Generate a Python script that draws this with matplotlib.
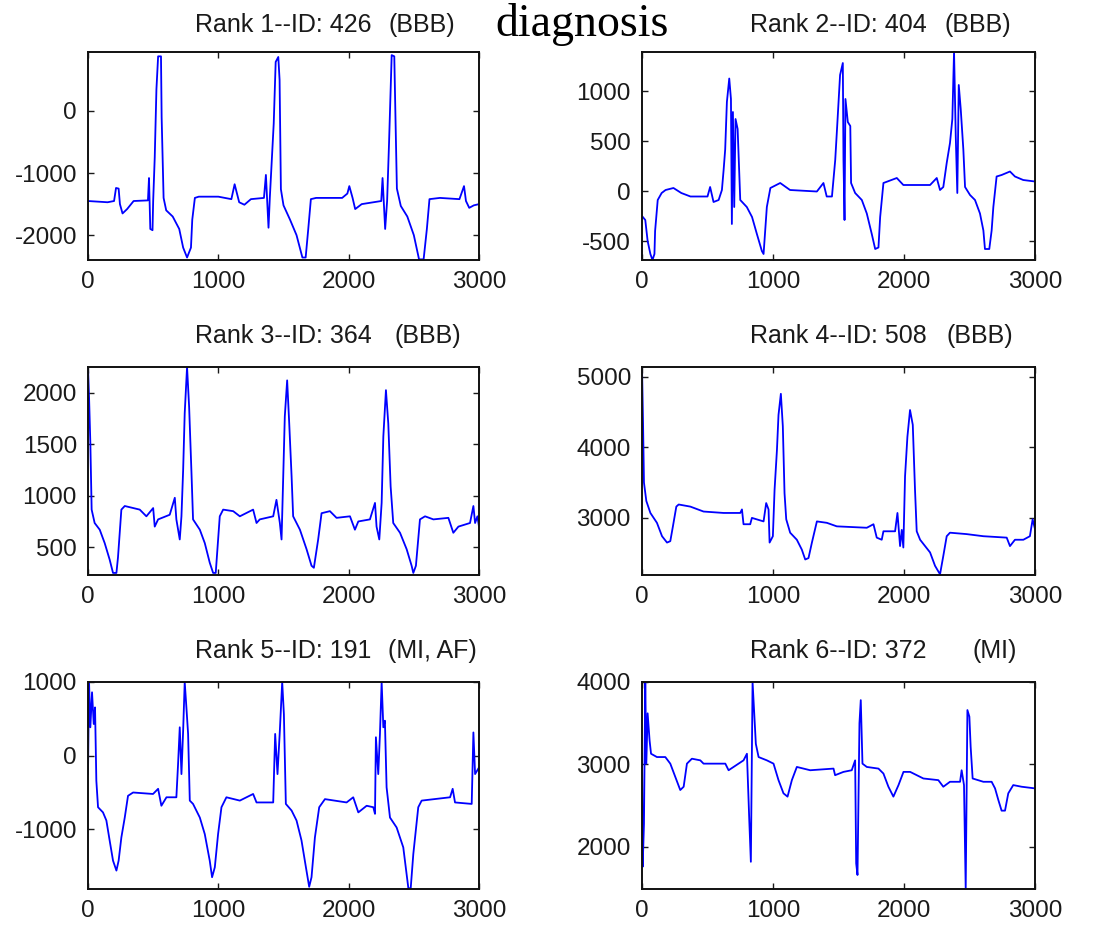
import matplotlib
matplotlib.use("Agg")
import matplotlib.pyplot as plt

# ---- data (sample index, amplitude) ----
rank1_x = [0, 150, 200, 215, 235, 245, 265, 300, 350, 460, 468, 478, 495, 500, 512, 525, 538, 560, 565,
           580, 600, 650, 700, 730, 760, 790, 800, 820, 850, 1000, 1100, 1125, 1160, 1200, 1250, 1350, 1365,
           1385, 1395, 1425, 1440, 1460, 1470, 1480, 1500, 1550, 1600, 1645, 1670, 1690, 1710, 1750, 1950,
           1990, 2005, 2030, 2050, 2100, 2250, 2260, 2280, 2295, 2310, 2330, 2350, 2360, 2370, 2400, 2450,
           2500, 2540, 2575, 2600, 2620, 2700, 2850, 2885, 2900, 2925, 2960, 3000]
rank1_y = [-1450, -1470, -1450, -1240, -1250, -1500, -1650, -1580, -1450, -1440, -1080, -1900, -1920,
           -1450, -750, 350, 880, 880, -100, -1400, -1600, -1700, -1900, -2200, -2360, -2200, -1750, -1400,
           -1380, -1380, -1420, -1180, -1470, -1510, -1420, -1400, -1030, -1880, -1400, -200, 790, 870,
           500, -1260, -1520, -1750, -2000, -2360, -2360, -1900, -1420, -1400, -1400, -1330, -1210, -1400,
           -1580, -1500, -1450, -1080, -1900, -1450, -500, 900, 880, -200, -1250, -1530, -1700, -2000,
           -2390, -2390, -1900, -1420, -1400, -1420, -1210, -1450, -1560, -1520, -1500]

rank2_x = [0, 25, 43, 64, 80, 95, 100, 120, 150, 180, 240, 300, 370, 500, 520, 546, 585, 610, 623, 635,
           648, 666, 679, 686, 694, 704, 714, 730, 750, 800, 840, 877, 915, 928, 953, 980, 1055, 1130, 1335,
           1385, 1410, 1450, 1475, 1490, 1512, 1533, 1538, 1546, 1553, 1571, 1590, 1596, 1627, 1678, 1716,
           1754, 1780, 1805, 1818, 1843, 1945, 1995, 2199, 2250, 2275, 2300, 2326, 2351, 2369, 2382, 2395,
           2407, 2418, 2433, 2453, 2466, 2504, 2542, 2580, 2606, 2618, 2651, 2669, 2682, 2707, 2745, 2809,
           2847, 2910, 3000]
rank2_y = [-250, -290, -500, -630, -690, -630, -400, -90, -20, 10, 30, -20, -55, -55, 40, -110, -90, 10,
           210, 415, 890, 1125, 920, -330, 790, -160, 720, 620, -90, -160, -260, -430, -600, -630, -160, 30,
           80, 10, -5, 80, -55, -55, 310, 650, 1160, 1280, 310, -290, 920, 690, 650, 80, -20, -90, -225,
           -430, -580, -565, -260, 80, 130, 60, 60, 130, 10, 40, 280, 480, 720, 1395, 550, -20, 1060, 820,
           415, 40, -40, -90, -225, -395, -580, -580, -395, -160, 145, 160, 195, 145, 110, 95]

rank3_x = [0, 8, 18, 28, 51, 90, 128, 166, 192, 218, 230, 256, 282, 397, 448, 500, 512, 538, 627, 666,
           678, 704, 717, 730, 742, 760, 776, 794, 806, 858, 896, 934, 960, 980, 1011, 1037, 1114, 1165,
           1267, 1293, 1318, 1421, 1446, 1472, 1485, 1498, 1510, 1528, 1544, 1562, 1574, 1626, 1677, 1715,
           1733, 1766, 1792, 1856, 1907, 2010, 2048, 2074, 2163, 2202, 2214, 2235, 2253, 2266, 2286, 2304,
           2322, 2342, 2394, 2445, 2483, 2496, 2516, 2547, 2586, 2650, 2765, 2803, 2842, 2931, 2957, 2970,
           2988, 3000]
rank3_y = [2250, 1960, 1510, 865, 735, 670, 540, 380, 250, 250, 400, 865, 900, 865, 800, 880, 700, 770,
           815, 980, 770, 575, 800, 1250, 1800, 2250, 1860, 1220, 770, 670, 540, 350, 250, 250, 800, 865,
           850, 800, 865, 735, 770, 800, 960, 735, 575, 1190, 1770, 2120, 1700, 1190, 800, 670, 480, 320,
           300, 575, 830, 850, 785, 800, 670, 750, 770, 930, 700, 575, 930, 1575, 2025, 1700, 1090, 735,
           640, 480, 320, 250, 320, 770, 800, 770, 785, 640, 700, 735, 900, 735, 800, 700]

rank4_x = [0, 8, 15, 33, 64, 114, 153, 191, 216, 236, 262, 280, 369, 470, 623, 750, 763, 775, 826, 839,
           928, 948, 966, 974, 999, 1012, 1030, 1042, 1060, 1075, 1088, 1101, 1131, 1182, 1220, 1246, 1271,
           1297, 1335, 1411, 1487, 1716, 1767, 1792, 1830, 1843, 1932, 1950, 1970, 1983, 1995, 2008, 2026,
           2046, 2067, 2084, 2097, 2123, 2161, 2199, 2237, 2275, 2300, 2326, 2351, 2478, 2606, 2784, 2809,
           2847, 2911, 2961, 2982, 3000]
rank4_y = [5140, 4340, 3500, 3240, 3070, 2930, 2740, 2650, 2670, 2880, 3160, 3190, 3160, 3090, 3070,
           3070, 3120, 2910, 2910, 3000, 2950, 3210, 3120, 2650, 2740, 3400, 3960, 4460, 4760, 4300, 3350,
           2980, 2790, 2690, 2550, 2410, 2430, 2650, 2950, 2930, 2880, 2860, 2910, 2720, 2690, 2810, 2810,
           3070, 2600, 2830, 2580, 3590, 4150, 4530, 4320, 3400, 2810, 2690, 2600, 2510, 2320, 2200, 2460,
           2740, 2790, 2770, 2740, 2720, 2600, 2690, 2690, 2740, 2980, 2840]

rank5_x = [0, 8, 18, 31, 44, 54, 64, 77, 115, 141, 166, 192, 218, 235, 256, 282, 307, 346, 499, 538, 563,
           602, 678, 691, 704, 717, 730, 742, 755, 768, 781, 806, 858, 896, 934, 952, 973, 998, 1024, 1062,
           1165, 1267, 1293, 1421, 1436, 1454, 1472, 1490, 1503, 1518, 1562, 1600, 1638, 1672, 1697, 1715,
           1741, 1774, 1818, 1984, 2035, 2074, 2138, 2189, 2202, 2209, 2227, 2240, 2253, 2266, 2278, 2291,
           2317, 2368, 2419, 2458, 2476, 2496, 2534, 2560, 2778, 2798, 2816, 2944, 2957, 2970, 3000]
rank5_y = [-250, 1000, 385, 860, 430, 655, -340, -700, -770, -880, -1150, -1425, -1560, -1425, -1110,
           -840, -545, -500, -520, -450, -680, -565, -565, -115, 385, -250, 340, 1000, 655, 295, -610, -655,
           -840, -1065, -1425, -1650, -1515, -1065, -700, -565, -610, -520, -635, -635, 295, -250, 340,
           1000, 565, -655, -745, -880, -1150, -1515, -1780, -1650, -1110, -700, -590, -635, -565, -770,
           -680, -700, -790, 250, -250, 295, 1000, 385, 475, -430, -840, -975, -1245, -1800, -1800, -1335,
           -700, -610, -565, -450, -635, -655, 315, -250, -160]

rank6_x = [0, 5, 15, 25, 33, 43, 58, 69, 114, 178, 216, 254, 292, 318, 343, 381, 445, 470, 636, 661, 699,
           775, 801, 819, 831, 844, 856, 869, 890, 953, 1004, 1042, 1080, 1111, 1144, 1182, 1284, 1462, 1474,
           1538, 1601, 1627, 1635, 1645, 1660, 1670, 1683, 1716, 1805, 1843, 1881, 1919, 1958, 1996, 2047,
           2148, 2262, 2300, 2351, 2428, 2440, 2458, 2471, 2484, 2499, 2509, 2524, 2606, 2669, 2695, 2720,
           2745, 2771, 2796, 2834, 2898, 3000]
rank6_y = [3130, 1760, 2280, 4000, 3010, 3620, 3290, 3130, 3090, 3090, 3010, 2850, 2690, 2730, 3010, 3070,
           3050, 3010, 3010, 2930, 2970, 3050, 3130, 2320, 1820, 4000, 3640, 3250, 3090, 3050, 3010, 2810,
           2650, 2610, 2810, 2970, 2930, 2950, 2870, 2910, 2930, 3050, 1800, 1660, 3500, 3780, 3010, 2970,
           2950, 2890, 2730, 2610, 2750, 2910, 2910, 2830, 2810, 2730, 2790, 2790, 2930, 2750, 1490, 3660,
           3580, 3210, 2830, 2790, 2790, 2710, 2570, 2440, 2440, 2650, 2750, 2730, 2710]

titles = ["Rank 1--ID: 426", "Rank 2--ID: 404", "Rank 3--ID: 364",
          "Rank 4--ID: 508", "Rank 5--ID: 191", "Rank 6--ID: 372"]
diagnoses = ["(BBB)", "(BBB)", "(BBB)", "(BBB)", "(MI, AF)", "(MI)"]
y_limits = [(-2400, 950), (-690, 1390), (230, 2250), (2190, 5140), (-1810, 1000), (1490, 4000)]
y_ticks = [[-2000, -1000, 0], [-500, 0, 500, 1000], [500, 1000, 1500, 2000],
           [3000, 4000, 5000], [-1000, 0, 1000], [2000, 3000, 4000]]
x_ticks = [0, 1000, 2000, 3000]

traces = [(rank1_x, rank1_y), (rank2_x, rank2_y), (rank3_x, rank3_y),
          (rank4_x, rank4_y), (rank5_x, rank5_y), (rank6_x, rank6_y)]

W, H = 1095, 925
plt.rcParams['font.family'] = ['Liberation Sans', 'DejaVu Sans']
plt.rcParams['axes.unicode_minus'] = False
text_color = '#1a1a1a'

fig = plt.figure(figsize=(W / 100, H / 100), dpi=100)

# axes boxes in pixels: (left, right) per column, (top, bottom) per row
col_px = [(88, 479), (642, 1035)]
row_px = [(52, 260), (367, 575), (682, 889)]
title_base = [32, 343, 658]
diag_left = [(388, 945), (395, 947), (388, 972)]

for i, (xs, ys) in enumerate(traces):
    r, c = divmod(i, 2)
    l, rt = col_px[c]
    t, b = row_px[r]
    ax = fig.add_axes([l / W, 1 - b / H, (rt - l) / W, (b - t) / H])
    ax.plot(xs, ys, color='#0000ff', linewidth=1.3)
    ax.set_xlim(0, 3000)
    ax.set_ylim(*y_limits[i])
    ax.set_xticks(x_ticks)
    ax.set_yticks(y_ticks[i])
    ax.tick_params(direction='in', length=4, width=1, top=True, right=True,
                   labelsize=17.5, colors=text_color, pad=8)
    for s in ax.spines.values():
        s.set_linewidth(1.4)
        s.set_color('#111111')

    # title pieces: rank centred on the axes, diagnosis set off to the right
    fig.text((l + rt) / 2 / W, 1 - title_base[r] / H, titles[i], ha='center', va='baseline',
             fontsize=18, color=text_color)
    fig.text(diag_left[r][c] / W, 1 - title_base[r] / H, diagnoses[i], ha='left', va='baseline',
             fontsize=18, color=text_color)

fig.text(495 / W, 1 - 36 / H, "diagnosis", ha='left', va='baseline', fontsize=33,
         family=['Liberation Serif', 'DejaVu Serif'], color='black')

fig.savefig("out.png", dpi=100)
